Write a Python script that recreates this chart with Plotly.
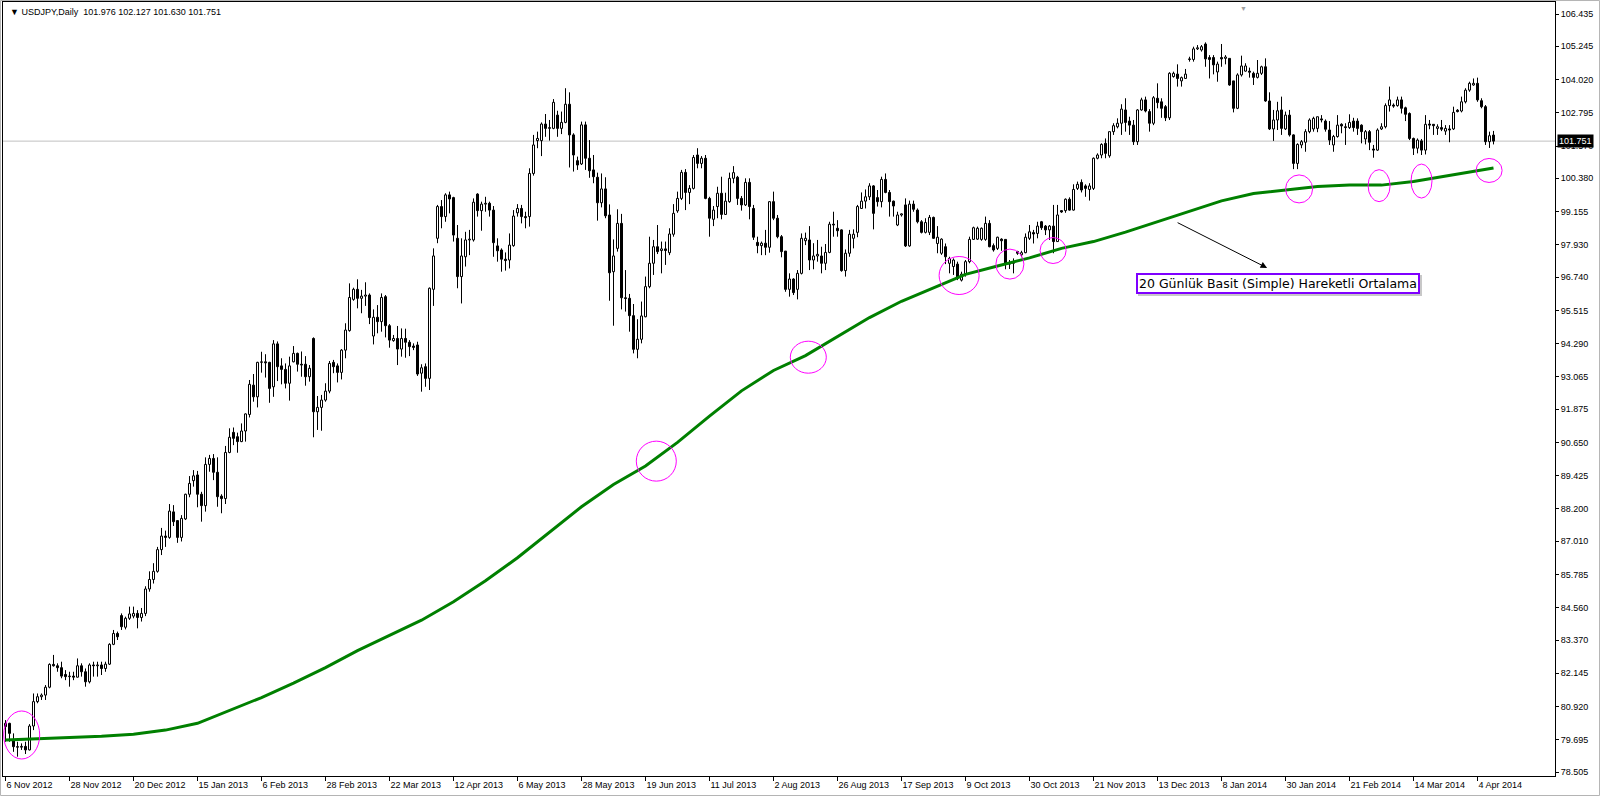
import plotly.graph_objects as go

# ---------------- data ----------------
date_labels = ["6 Nov 2012", "28 Nov 2012", "20 Dec 2012", "15 Jan 2013", "6 Feb 2013",
               "28 Feb 2013", "22 Mar 2013", "12 Apr 2013", "6 May 2013", "28 May 2013",
               "19 Jun 2013", "11 Jul 2013", "2 Aug 2013", "26 Aug 2013", "17 Sep 2013",
               "9 Oct 2013", "30 Oct 2013", "21 Nov 2013", "13 Dec 2013", "8 Jan 2014",
               "30 Jan 2014", "21 Feb 2014", "14 Mar 2014", "4 Apr 2014"]
bars_per_label = 16

price_ticks = [106.435, 105.245, 104.020, 102.795, 101.570, 100.380, 99.155, 97.930,
               96.740, 95.515, 94.290, 93.065, 91.875, 90.650, 89.425, 88.200, 87.010,
               85.785, 84.560, 83.370, 82.145, 80.920, 79.695, 78.505]

last_price = 101.751
symbol_title = "USDJPY,Daily"
last_ohlc = ["101.976", "102.127", "101.630", "101.751"]

opens = [
    80.30, 80.30, 79.70, 79.44, 79.42, 79.45, 79.32, 80.20, 81.10, 81.28,
    81.34, 81.63, 82.47, 82.42, 82.35, 82.10, 82.02, 82.04, 82.00, 82.42,
    82.20, 81.83, 82.45, 82.42, 82.45, 82.32, 82.48, 83.21, 83.61, 84.27,
    83.84, 84.17, 84.25, 84.35, 84.20, 84.35, 85.25, 85.60, 85.90, 86.70,
    87.20, 87.15, 88.09, 87.77, 87.15, 87.83, 88.74, 89.24, 89.45, 88.74,
    88.32, 89.84, 90.06, 89.55, 88.67, 88.58, 90.28, 91.02, 90.86, 90.68,
    91.07, 91.68, 92.76, 92.33, 93.60, 93.62, 93.60, 92.70, 94.28, 93.47,
    93.34, 92.83, 93.62, 93.93, 93.53, 93.53, 93.07, 94.48, 91.78, 91.94,
    92.21, 92.54, 93.60, 93.47, 93.23, 94.05, 94.77, 95.92, 96.29, 95.96,
    96.04, 96.08, 94.57, 95.26, 95.10, 96.02, 94.95, 94.40, 94.48, 94.09,
    94.48, 94.34, 94.20, 94.24, 93.20, 93.44, 93.01, 96.29, 98.17, 99.34,
    98.97, 99.77, 99.67, 98.17, 96.76, 97.49, 98.11, 98.11, 99.80, 99.19,
    99.43, 99.46, 99.21, 97.89, 97.74, 97.40, 97.37, 97.90, 99.11, 99.27,
    98.97, 98.97, 100.56, 101.77, 101.77, 102.38, 102.22, 102.22, 102.71, 102.22,
    102.44, 103.11, 101.98, 101.03, 100.91, 102.35, 101.12, 100.69, 100.42, 99.48,
    99.99, 99.03, 96.94, 97.80, 98.72, 95.98, 95.96, 95.32, 94.08, 94.45,
    95.28, 96.39, 97.25, 97.86, 97.72, 97.78, 97.64, 98.32, 99.18, 99.64,
    100.60, 99.86, 100.01, 101.24, 100.93, 101.12, 99.64, 98.87, 99.34, 99.83,
    99.05, 99.52, 100.38, 100.42, 99.64, 99.40, 100.23, 99.27, 98.02, 97.90,
    97.99, 97.84, 99.52, 98.91, 98.23, 97.70, 96.29, 96.67, 96.29, 96.88,
    98.08, 98.11, 97.37, 97.52, 97.52, 97.25, 97.65, 98.69, 98.54, 98.48,
    96.98, 97.62, 98.17, 98.39, 99.27, 99.54, 99.70, 100.10, 99.67, 99.52,
    100.34, 99.86, 99.54, 98.66, 99.03, 99.40, 97.89, 99.43, 99.21, 98.78,
    98.39, 98.39, 98.94, 97.98, 97.62, 97.86, 97.25, 97.13, 97.22, 96.63,
    96.85, 97.31, 98.13, 98.14, 98.13, 98.13, 98.72, 97.90, 97.80, 98.14,
    98.13, 97.27, 97.25, 97.68, 97.56, 97.64, 98.17, 98.38, 98.35, 98.78,
    98.62, 98.48, 98.62, 98.05, 99.19, 99.19, 99.61, 99.21, 100.01, 100.23,
    100.10, 99.97, 100.01, 101.12, 101.24, 101.67, 101.21, 102.10, 102.28, 102.41,
    102.90, 102.49, 102.34, 101.73, 102.90, 103.27, 102.84, 102.41, 103.33, 103.20,
    103.02, 102.61, 104.13, 104.22, 103.97, 104.06, 104.78, 104.76, 105.15, 105.11,
    105.33, 104.83, 104.83, 104.30, 104.83, 104.80, 104.80, 103.97, 102.96, 104.19,
    104.33, 104.33, 104.25, 104.10, 104.25, 104.49, 103.23, 102.20, 102.53, 102.90,
    102.20, 102.71, 101.98, 100.93, 101.61, 101.71, 102.10, 102.20, 102.22, 102.57,
    102.49, 102.16, 101.61, 101.92, 102.37, 102.28, 102.25, 102.49, 102.49, 102.34,
    101.83, 102.10, 101.46, 101.42, 102.20, 102.28, 103.06, 103.08, 103.06, 103.27,
    102.98, 102.77, 101.85, 101.49, 101.76, 101.42, 102.38, 102.37, 102.22, 102.25,
    102.12, 102.20, 102.20, 102.89, 102.86, 103.20, 103.63, 103.82, 103.88, 103.24,
    103.02, 101.73, 101.976]

highs = [
    80.42, 80.32, 79.93, 79.62, 79.56, 79.62, 80.27, 81.40, 81.40, 81.40,
    81.71, 82.51, 82.82, 82.51, 82.57, 82.26, 82.20, 82.20, 82.69, 82.51,
    82.32, 82.51, 82.57, 82.57, 82.57, 82.57, 83.25, 83.74, 83.68, 84.35,
    84.23, 84.60, 84.60, 84.47, 84.55, 85.35, 85.90, 86.20, 86.80, 87.50,
    87.40, 88.38, 88.34, 87.79, 87.97, 88.76, 89.41, 89.63, 89.60, 88.83,
    90.10, 90.19, 90.22, 90.10, 88.74, 90.52, 91.17, 91.20, 91.01, 91.35,
    91.72, 92.95, 93.17, 93.62, 93.99, 93.90, 93.62, 94.42, 94.37, 93.75,
    93.56, 93.81, 94.20, 93.96, 94.00, 93.83, 93.50, 94.52, 92.36, 92.40,
    92.83, 93.65, 93.69, 93.56, 94.09, 95.04, 96.51, 96.35, 96.66, 96.27,
    96.55, 96.14, 95.55, 95.71, 96.14, 96.08, 95.01, 94.61, 94.94, 94.85,
    94.84, 94.42, 94.30, 94.36, 93.53, 93.56, 96.36, 97.80, 99.40, 99.58,
    99.83, 99.89, 99.70, 98.66, 98.17, 98.41, 98.48, 99.64, 99.83, 99.52,
    99.70, 99.52, 99.36, 98.17, 97.80, 97.65, 98.35, 99.21, 99.43, 99.40,
    99.15, 100.75, 101.98, 102.10, 102.44, 102.75, 102.53, 103.30, 102.87, 102.84,
    103.70, 103.55, 102.04, 101.18, 102.47, 102.47, 101.79, 101.24, 100.59, 100.56,
    100.42, 99.42, 98.13, 99.24, 99.07, 97.00, 96.12, 95.75, 95.19, 95.84,
    96.76, 98.23, 98.11, 98.66, 98.05, 98.05, 98.54, 99.43, 99.89, 100.69,
    100.72, 100.13, 101.24, 101.49, 101.20, 101.24, 99.70, 99.36, 100.07, 100.44,
    99.85, 100.59, 100.83, 100.47, 99.73, 100.38, 100.38, 99.40, 98.23, 98.05,
    98.48, 99.54, 99.89, 99.03, 98.29, 97.70, 96.88, 96.70, 97.00, 98.35,
    98.38, 98.62, 97.99, 98.11, 97.86, 97.96, 98.78, 99.15, 98.84, 98.50,
    97.76, 98.48, 98.50, 99.40, 99.86, 99.97, 100.20, 100.13, 99.95, 100.44,
    100.56, 99.95, 99.56, 99.15, 99.09, 99.64, 99.56, 99.56, 99.27, 98.84,
    98.91, 99.03, 98.97, 98.62, 98.17, 97.98, 97.49, 97.43, 97.31, 96.94,
    97.37, 98.23, 98.60, 98.60, 98.57, 98.97, 98.84, 97.98, 98.23, 98.17,
    98.13, 97.37, 97.43, 97.71, 97.71, 98.35, 98.66, 98.48, 98.78, 98.81,
    98.66, 98.66, 99.40, 99.40, 99.21, 99.64, 99.68, 100.16, 100.26, 100.34,
    100.16, 100.20, 101.15, 101.30, 101.67, 101.85, 102.10, 102.41, 102.59, 103.11,
    103.33, 102.65, 102.53, 102.93, 103.35, 103.39, 102.93, 103.41, 103.88, 103.33,
    103.08, 104.29, 104.31, 104.58, 104.13, 104.41, 104.86, 105.23, 105.29, 105.29,
    105.39, 104.92, 104.92, 104.68, 105.33, 104.92, 104.80, 103.97, 104.25, 104.90,
    104.62, 104.46, 104.31, 104.74, 104.53, 104.80, 103.55, 102.90, 103.20, 103.39,
    102.84, 102.90, 102.00, 101.67, 101.79, 102.19, 102.59, 102.65, 102.65, 102.71,
    102.55, 102.49, 101.98, 102.71, 102.41, 102.41, 102.74, 102.61, 102.59, 102.37,
    102.16, 102.16, 101.61, 102.22, 102.41, 103.14, 103.76, 103.14, 103.39, 103.39,
    103.02, 102.81, 101.88, 101.85, 101.83, 102.71, 102.53, 102.37, 102.37, 102.53,
    102.34, 102.34, 103.02, 102.93, 103.39, 103.70, 103.94, 104.06, 104.09, 103.33,
    103.08, 102.10, 102.127]

lows = [
    79.62, 79.62, 79.25, 79.07, 79.32, 79.17, 79.30, 80.05, 81.04, 81.16,
    81.16, 81.59, 82.39, 82.20, 81.96, 81.89, 81.65, 81.89, 81.99, 82.02,
    81.65, 81.77, 82.02, 82.02, 82.08, 82.20, 82.45, 83.18, 83.37, 83.74,
    83.76, 84.11, 84.17, 83.80, 84.05, 84.25, 85.15, 85.45, 85.85, 86.50,
    86.80, 87.10, 87.57, 86.95, 87.00, 87.79, 88.63, 89.02, 88.26, 87.73,
    88.10, 89.57, 89.26, 88.28, 88.04, 88.38, 90.25, 90.55, 90.27, 90.66,
    90.68, 91.57, 92.15, 91.94, 93.22, 93.04, 92.11, 92.33, 92.91, 92.79,
    92.64, 92.19, 93.60, 93.26, 93.07, 92.74, 92.89, 90.84, 91.11, 91.08,
    92.15, 92.46, 93.20, 92.86, 92.97, 93.75, 94.73, 95.87, 95.59, 95.41,
    95.68, 95.01, 94.26, 94.67, 94.73, 94.52, 94.14, 94.36, 93.50, 93.81,
    93.77, 93.83, 94.05, 93.10, 92.52, 92.70, 92.58, 95.68, 97.99, 98.54,
    98.78, 99.09, 98.05, 96.33, 95.77, 97.13, 97.55, 98.05, 98.97, 98.45,
    99.15, 98.97, 97.49, 97.31, 96.94, 96.98, 97.06, 97.86, 98.97, 98.72,
    98.54, 98.60, 100.48, 101.49, 101.20, 101.91, 101.77, 102.19, 101.91, 102.01,
    102.41, 100.78, 100.63, 100.69, 100.87, 100.69, 100.40, 100.20, 98.82, 99.31,
    98.91, 95.87, 94.95, 97.68, 95.55, 95.47, 94.73, 93.93, 93.75, 94.30,
    95.26, 96.33, 96.82, 97.59, 96.88, 97.19, 97.55, 98.23, 99.11, 99.58,
    99.21, 99.43, 99.97, 100.75, 100.75, 99.61, 98.23, 98.62, 98.91, 98.87,
    99.03, 99.48, 100.20, 99.40, 99.19, 99.36, 98.87, 98.11, 97.62, 97.55,
    97.55, 97.64, 98.84, 98.17, 97.47, 96.20, 96.02, 96.08, 95.92, 96.84,
    97.92, 97.00, 97.03, 97.31, 96.88, 97.00, 97.62, 98.23, 98.23, 96.94,
    96.76, 97.49, 97.80, 98.21, 99.25, 99.27, 99.58, 98.50, 99.34, 99.31,
    99.83, 98.97, 98.97, 98.62, 98.97, 97.85, 97.86, 99.15, 98.72, 98.35,
    98.35, 98.29, 98.15, 97.62, 97.56, 97.22, 96.88, 96.82, 96.63, 96.58,
    96.76, 97.25, 98.11, 98.11, 98.08, 98.08, 97.84, 97.68, 97.74, 97.71,
    97.03, 97.04, 96.88, 97.56, 97.47, 97.62, 98.11, 97.98, 98.17, 98.48,
    98.29, 98.11, 97.62, 98.05, 99.11, 99.11, 99.19, 99.19, 99.95, 99.86,
    99.70, 99.56, 99.95, 101.08, 101.12, 101.12, 101.14, 101.98, 102.22, 101.98,
    102.10, 101.98, 101.61, 101.61, 102.87, 102.81, 102.10, 102.34, 102.96, 102.61,
    102.49, 102.53, 104.09, 103.76, 103.76, 104.06, 104.68, 104.68, 105.11, 105.05,
    104.49, 104.06, 104.21, 103.94, 104.49, 104.58, 103.79, 102.81, 102.93, 104.13,
    104.31, 104.09, 103.82, 104.06, 104.19, 103.20, 102.16, 101.76, 102.16, 101.98,
    102.16, 101.92, 100.72, 100.72, 101.49, 101.36, 102.04, 102.10, 102.08, 102.44,
    102.10, 101.61, 101.36, 101.88, 102.04, 101.61, 102.20, 102.10, 101.98, 101.67,
    101.63, 101.42, 101.14, 101.39, 102.16, 102.22, 102.84, 102.98, 103.02, 102.77,
    102.49, 101.79, 101.24, 101.30, 101.24, 101.26, 102.19, 101.98, 101.98, 102.12,
    101.98, 101.71, 102.16, 102.81, 102.81, 103.14, 103.57, 103.79, 103.20, 102.96,
    101.61, 101.50, 101.630]

closes = [
    80.18, 79.93, 79.44, 79.42, 79.45, 79.32, 80.20, 81.10, 81.28, 81.34,
    81.63, 82.47, 82.42, 82.35, 82.04, 82.02, 82.04, 82.00, 82.42, 82.20,
    81.83, 82.45, 82.42, 82.45, 82.32, 82.48, 83.21, 83.61, 83.49, 83.86,
    84.17, 84.33, 84.35, 84.20, 84.35, 85.25, 85.60, 85.90, 86.70, 87.20,
    87.15, 88.12, 87.73, 87.15, 87.85, 88.74, 89.14, 89.42, 88.74, 88.32,
    89.84, 90.06, 89.55, 88.65, 88.58, 90.28, 90.84, 90.80, 90.68, 91.07,
    91.70, 92.79, 92.33, 93.60, 93.62, 93.58, 92.64, 94.28, 93.44, 93.34,
    92.83, 93.47, 93.93, 93.53, 93.50, 93.07, 93.38, 91.78, 91.94, 92.21,
    92.54, 93.56, 93.44, 93.23, 94.05, 94.79, 95.99, 96.29, 95.96, 96.04,
    96.08, 95.25, 95.26, 95.10, 95.99, 94.95, 94.42, 94.48, 94.09, 94.48,
    94.34, 94.18, 94.15, 93.17, 93.40, 93.01, 96.33, 97.52, 99.34, 98.97,
    99.77, 99.62, 98.29, 96.76, 97.52, 98.11, 98.14, 99.50, 99.19, 99.43,
    99.46, 99.21, 98.01, 97.71, 97.40, 97.35, 97.92, 98.99, 99.27, 98.97,
    98.93, 100.56, 101.61, 101.85, 102.38, 102.22, 102.25, 103.18, 102.22, 102.44,
    103.11, 101.98, 101.24, 100.87, 102.35, 101.12, 100.66, 100.44, 99.48, 99.99,
    99.00, 96.90, 97.52, 98.72, 95.98, 95.95, 95.32, 94.08, 94.45, 95.31,
    96.39, 97.25, 97.86, 97.68, 97.78, 97.72, 98.33, 99.09, 99.64, 100.60,
    99.86, 100.01, 101.15, 100.93, 101.12, 99.64, 98.91, 99.21, 99.83, 99.05,
    99.54, 100.38, 100.59, 99.64, 99.40, 100.23, 99.34, 98.21, 97.90, 97.99,
    97.84, 99.52, 98.91, 98.23, 97.68, 96.29, 96.67, 96.17, 96.88, 98.17,
    98.17, 97.37, 97.52, 97.58, 97.25, 97.65, 98.69, 98.66, 98.45, 96.98,
    97.62, 98.32, 98.32, 99.34, 99.54, 99.70, 100.10, 99.09, 99.52, 100.34,
    99.86, 99.52, 99.36, 99.03, 99.07, 97.89, 99.43, 99.24, 98.78, 98.39,
    98.75, 98.94, 98.17, 98.21, 98.14, 97.49, 97.43, 97.37, 96.70, 96.85,
    97.31, 98.13, 98.56, 98.54, 98.54, 98.72, 97.86, 97.74, 98.21, 98.08,
    97.25, 97.22, 97.31, 97.62, 97.64, 98.21, 98.41, 98.33, 98.62, 98.56,
    98.48, 98.62, 98.05, 99.03, 99.14, 99.61, 99.21, 99.97, 100.16, 99.95,
    100.01, 100.10, 101.12, 101.24, 101.63, 101.30, 102.10, 102.32, 102.41, 102.93,
    102.44, 102.34, 101.73, 102.90, 103.27, 102.86, 102.41, 103.35, 103.17, 102.96,
    102.61, 104.25, 104.25, 104.06, 104.09, 104.22, 104.76, 105.15, 105.19, 105.23,
    104.78, 104.76, 104.56, 104.59, 104.78, 104.85, 103.82, 102.96, 104.19, 104.52,
    104.52, 104.29, 104.10, 104.25, 104.49, 103.23, 102.20, 102.53, 102.87, 102.22,
    102.71, 101.98, 100.93, 101.63, 101.73, 102.10, 102.53, 102.59, 102.65, 102.53,
    102.19, 101.79, 101.92, 102.34, 102.31, 102.25, 102.44, 102.25, 102.22, 102.10,
    102.10, 101.71, 101.42, 102.16, 102.28, 103.06, 103.27, 103.04, 103.27, 102.96,
    102.74, 101.85, 101.49, 101.79, 101.42, 102.37, 102.34, 102.32, 102.28, 102.19,
    102.22, 102.16, 102.81, 102.84, 103.20, 103.63, 103.88, 103.88, 103.27, 103.02,
    101.73, 101.95, 101.751]

# moving average line, sampled at these bar numbers
ma_bars = [0, 8, 16, 24, 32, 40, 48, 56, 64, 72, 80, 88, 96, 104, 112, 120, 128, 136,
           144, 152, 160, 168, 176, 184, 192, 200, 208, 216, 224, 232, 240, 248, 256,
           264, 272, 280, 288, 296, 304, 312, 320, 328, 336, 344, 352, 360, 368, 372]
ma_values = [79.69, 79.74, 79.78, 79.82, 79.90, 80.05, 80.30, 80.78, 81.25, 81.78,
             82.35, 82.98, 83.55, 84.10, 84.78, 85.55, 86.40, 87.35, 88.28, 89.10,
             89.78, 90.65, 91.62, 92.55, 93.30, 93.85, 94.55, 95.25, 95.85, 96.35,
             96.84, 97.15, 97.45, 97.80, 98.05, 98.40, 98.78, 99.15, 99.55, 99.82,
             99.95, 100.08, 100.13, 100.13, 100.26, 100.46, 100.66, 100.76]

# touch points of the average that are ringed on the chart (bar, price)
touch_bars = [4.05, 162.7, 200.7, 238.4, 251.1, 261.9, 323.4, 343.4, 354.0, 370.9]
touch_prices = [79.87, 89.96, 93.79, 96.80, 97.22, 97.72, 99.99, 100.11, 100.28, 100.67]

annotation_text = "20 Günlük Basit (Simple) Hareketli Ortalama"

# ---------------- figure ----------------
n = len(closes)
idx = list(range(n))

wick_x, wick_y = [], []
for i in idx:
    top = max(opens[i], closes[i])
    bot = min(opens[i], closes[i])
    if highs[i] > top:
        wick_x += [i, i, None]
        wick_y += [top, highs[i], None]
    if lows[i] < bot:
        wick_x += [i, i, None]
        wick_y += [lows[i], bot, None]

min_body = 0.015
up = [i for i in idx if closes[i] >= opens[i]]
dn = [i for i in idx if closes[i] < opens[i]]

fig = go.Figure()
fig.add_trace(go.Bar(
    x=up, base=[opens[i] for i in up],
    y=[max(closes[i] - opens[i], min_body) for i in up],
    width=0.5, marker=dict(color="white", line=dict(color="black", width=1)),
    hoverinfo="skip"))
fig.add_trace(go.Bar(
    x=dn, base=[closes[i] for i in dn],
    y=[max(opens[i] - closes[i], min_body) for i in dn],
    width=0.5, marker=dict(color="black", line=dict(color="black", width=1)),
    hoverinfo="skip"))
fig.add_trace(go.Scatter(x=wick_x, y=wick_y, mode="lines",
                         line=dict(color="black", width=1), hoverinfo="skip"))
fig.add_trace(go.Scatter(x=ma_bars, y=ma_values, mode="lines",
                         line=dict(color="#008000", width=3), hoverinfo="skip"))

ring_sizes = [(18, 24), (20, 20), (18, 16), (20, 19), (14, 15), (13, 13),
              (13.5, 14), (11, 16), (10.5, 17), (13, 12)]
shapes = [dict(type="line", xref="paper", x0=0, x1=1, yref="y", y0=last_price, y1=last_price,
               line=dict(color="#C0C0C0", width=1), layer="below")]
for (bx, py), (rx, ry) in zip(zip(touch_bars, touch_prices), ring_sizes):
    shapes.append(dict(type="circle", xref="x", yref="y",
                       xsizemode="pixel", ysizemode="pixel",
                       xanchor=bx, yanchor=py, x0=-rx, x1=rx, y0=-ry, y1=ry,
                       line=dict(color="#FF00FF", width=1), layer="above"))
# thin window frame around the whole picture
shapes.append(dict(type="rect", xref="paper", yref="paper",
                   x0=-0.0016, x1=1.0287, y0=-0.0252, y1=1.0019,
                   line=dict(color="#B4B4B4", width=1), layer="below"))

axis_font = dict(family="Liberation Sans, Arial, sans-serif", size=9, color="black")

annotations = [
    dict(xref="paper", yref="paper", x=0, y=1, xanchor="left", yanchor="top",
         xshift=5, yshift=-3, showarrow=False,
         text="▼ " + symbol_title + "\u00a0\u00a0" + " ".join(last_ohlc),
         font=dict(family="Liberation Sans, Arial, sans-serif", size=9, color="black")),
    dict(xref="paper", yref="y", x=1, y=last_price, xanchor="left", yanchor="middle",
         xshift=2, showarrow=False, text=f"{last_price:.3f}",
         bgcolor="black", borderpad=1,
         font=dict(family="Liberation Sans, Arial, sans-serif", size=9, color="white")),
    dict(xref="paper", yref="paper", x=0.799, y=1, xanchor="center", yanchor="top",
         showarrow=False, text="▼", font=dict(size=7, color="#A0A0A0")),
    # arrow from the average to the label box
    dict(xref="x", yref="y", x=315.4, y=97.08, ax=-91, ay=-46, text="",
         showarrow=True, arrowhead=2, arrowsize=1.3, arrowwidth=1, arrowcolor="black"),
    # soft shadow behind the label box
    dict(xref="paper", yref="paper", x=0.8215, y=0.6363, xanchor="center", yanchor="middle",
         xshift=2, yshift=-2, showarrow=False, text=annotation_text,
         font=dict(family="DejaVu Sans", size=12.5, color="rgba(0,0,0,0)"),
         bgcolor="#c8c8c8", bordercolor="#c8c8c8", borderwidth=2, borderpad=1),
    dict(xref="paper", yref="paper", x=0.8215, y=0.6363, xanchor="center", yanchor="middle",
         showarrow=False, text=annotation_text,
         font=dict(family="DejaVu Sans", size=12.5, color="black"),
         bgcolor="white", bordercolor="#7F00FF", borderwidth=2, borderpad=1),
]

fig.update_layout(
    width=1600, height=796,
    margin=dict(l=3, r=45, t=2, b=20),
    paper_bgcolor="white", plot_bgcolor="white",
    barmode="overlay", showlegend=False,
    shapes=shapes, annotations=annotations,
    xaxis=dict(range=[-0.625, 387.375], tickmode="array",
               tickvals=[k * bars_per_label for k in range(len(date_labels))],
               ticktext=date_labels, ticks="outside", ticklen=4, tickcolor="black",
               ticklabelposition="outside right",
               showline=True, linecolor="black", linewidth=1, mirror=True,
               showgrid=False, zeroline=False, tickfont=axis_font, fixedrange=True),
    yaxis=dict(range=[78.359, 106.877], side="right", tickmode="array",
               tickvals=price_ticks, ticktext=[f"{v:.3f}" for v in price_ticks],
               ticks="outside", ticklen=3, tickcolor="black",
               showline=True, linecolor="black", linewidth=1, mirror=True,
               showgrid=False, zeroline=False, tickfont=axis_font, fixedrange=True),
)

fig.write_html("out.html",
               config={"displayModeBar": False},
               post_script="document.body.style.margin='0';"
                           "document.body.style.overflow='hidden';")
